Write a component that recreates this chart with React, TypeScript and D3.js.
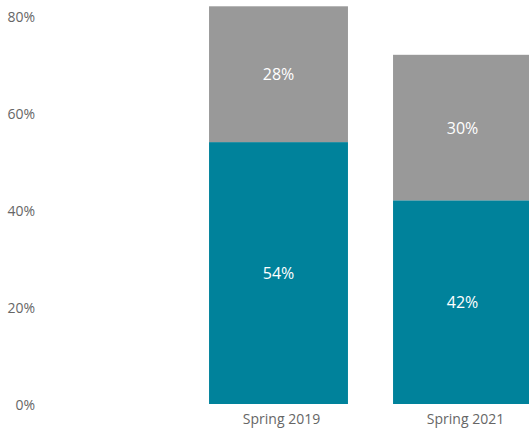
import React from "react";
import * as d3 from "d3";

const categories = ["Spring 2019", "Spring 2021"];
const lowerValues = [54, 42];
const upperValues = [28, 30];
const yTicks = [0, 20, 40, 60, 80];

const W = 529;
const H = 430;
const FONT = "'Open Sans', 'Noto Sans', sans-serif";

export default function App() {
  const y = d3.scaleLinear().domain([0, 80]).range([404, 16]);
  const step = 184;
  const x = d3
    .scaleBand<string>()
    .domain(categories)
    .range([186.5, 186.5 + step * 2])
    .paddingInner(0.245)
    .paddingOuter(0.1225);
  const bw = x.bandwidth();

  return (
    <svg
      width={W}
      height={H}
      style={{ position: "absolute", left: 0, top: 0, background: "#fff" }}
      fontFamily={FONT}
    >
      {yTicks.map((t) => (
        <text
          key={t}
          x={35}
          y={y(t)}
          textAnchor="end"
          dominantBaseline="central"
          fontSize={14}
          fill="#666"
        >
          {t}%
        </text>
      ))}
      {categories.map((c, i) => {
        const x0 = x(c)!;
        const lo = lowerValues[i];
        const up = upperValues[i];
        return (
          <g key={c}>
            <rect x={x0} y={y(lo)} width={bw} height={y(0) - y(lo)} fill="#00829B" />
            <rect x={x0} y={y(lo + up)} width={bw} height={y(lo) - y(lo + up)} fill="#999999" />
            <text
              x={x0 + bw / 2}
              y={(y(0) + y(lo)) / 2}
              textAnchor="middle"
              dominantBaseline="central"
              fontSize={16}
              fill="#fff"
            >
              {lo}%
            </text>
            <text
              x={x0 + bw / 2}
              y={(y(lo) + y(lo + up)) / 2}
              textAnchor="middle"
              dominantBaseline="central"
              fontSize={16}
              fill="#fff"
            >
              {up}%
            </text>
            <text
              x={x0 + bw / 2 + 3}
              y={418}
              textAnchor="middle"
              dominantBaseline="central"
              fontSize={14}
              fill="#666"
            >
              {c}
            </text>
          </g>
        );
      })}
    </svg>
  );
}
